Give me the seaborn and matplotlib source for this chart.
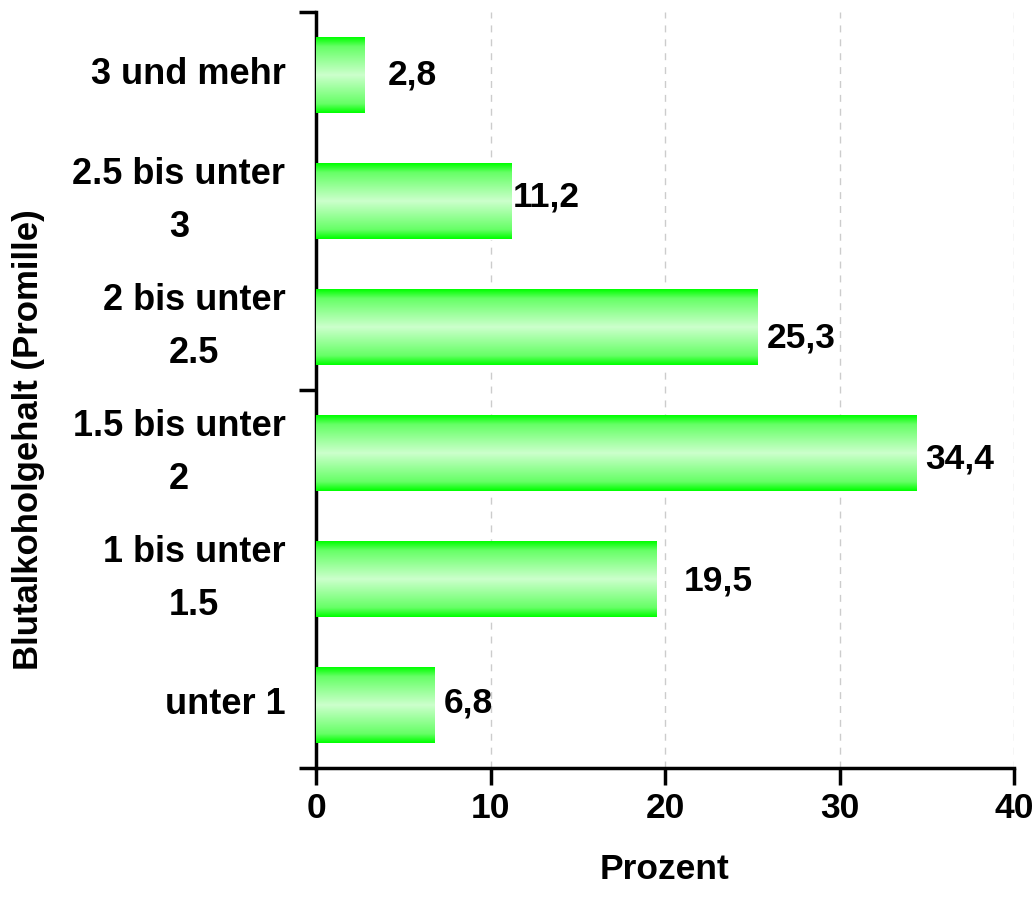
import numpy as np
import pandas as pd
import matplotlib
matplotlib.use("Agg")
import matplotlib.pyplot as plt
import seaborn as sns
from matplotlib.colors import LinearSegmentedColormap

# ── Data ──────────────────────────────────────────────────────────────────────
categories = ["3 und mehr", "2.5 bis unter\n3", "2 bis unter\n2.5",
              "1.5 bis unter\n2", "1 bis unter\n1.5", "unter 1"]
percent = [2.8, 11.2, 25.3, 34.4, 19.5, 6.8]
value_labels = ["2,8", "11,2", "25,3", "34,4", "19,5", "6,8"]
x_ticks = [0, 10, 20, 30, 40]

# label placement (pixels right of bar end, pixels down from bar centre)
label_dx = [23, 1, 9, 9, 27, 9]
label_dy = [0, -4, 11, 6, 2, -2]

df = pd.DataFrame({"kategorie": categories, "prozent": percent})

sns.set_theme(style="white")
plt.rcParams["font.family"] = ["Liberation Sans", "DejaVu Sans"]
plt.rcParams["font.weight"] = "bold"
for key in ["text.color", "axes.labelcolor", "xtick.color", "ytick.color"]:
    plt.rcParams[key] = "black"

fig = plt.figure(figsize=(10.36, 9.14), dpi=100)
ax = fig.add_axes([316 / 1036, 1 - 768 / 914, (1014 - 316) / 1036, (768 - 12) / 914])

sns.barplot(data=df, x="prozent", y="kategorie", orient="h", color="#00ff00",
            width=0.6, ax=ax, zorder=2)

# vertical gradient inside each bar
grad_cmap = LinearSegmentedColormap.from_list(
    "gr", [(0.0, "#00ff00"), (0.12, "#66ff66"), (0.5, "#ccffcc"),
           (0.88, "#66ff66"), (1.0, "#00ff00")])
grad = np.linspace(0, 1, 200).reshape(-1, 1)
for p in ax.patches:
    x0, y0 = p.get_x(), p.get_y()
    w, h = p.get_width(), p.get_height()
    ax.imshow(grad, extent=[x0, x0 + w, y0 + h, y0], aspect="auto",
              cmap=grad_cmap, zorder=3, interpolation="bilinear")

ax.set_xlim(0, 40)
ax.set_ylim(5.5, -0.5)

for i, p in enumerate(ax.patches):
    yc = p.get_y() + p.get_height() / 2
    ax.annotate(value_labels[i], (p.get_width(), yc),
                xytext=(label_dx[i], -label_dy[i]), textcoords="offset pixels",
                ha="left", va="center", fontsize=25.5, fontweight="bold", zorder=5)

# grid
for xv in x_ticks[1:]:
    ax.axvline(xv, color="#cccccc", linestyle=(0, (5, 5)), linewidth=1, zorder=1)

ax.set_xticks(x_ticks)
ax.set_xticklabels([str(v) for v in x_ticks], fontsize=25.5, fontweight="bold")
ax.tick_params(axis="x", length=12, width=2.5, direction="out", pad=5,
               bottom=True, color="black")

ax.set_yticks(range(len(categories)))
ax.set_yticklabels(categories, fontsize=26, fontweight="bold",
                   multialignment="center", linespacing=1.65)
for lbl in ax.get_yticklabels():
    lbl.set_verticalalignment("center")
ax.tick_params(axis="y", which="major", length=0, pad=22)
ax.set_yticks([-0.5, 2.5, 5.5], minor=True)
ax.tick_params(axis="y", which="minor", length=12, width=2.5, left=True,
               direction="out", color="black")

for s in ["top", "right"]:
    ax.spines[s].set_visible(False)
for s in ["left", "bottom"]:
    ax.spines[s].set_linewidth(2.5)
    ax.spines[s].set_color("black")

ax.set_xlabel("Prozent", fontsize=25.5, fontweight="bold")
ax.xaxis.set_label_coords(0.5, -0.113)
ax.set_ylabel("Blutalkoholgehalt (Promille)", fontsize=25, fontweight="bold")
ax.yaxis.set_label_coords(-0.388, 0.434)

fig.savefig("out.png", dpi=100)
